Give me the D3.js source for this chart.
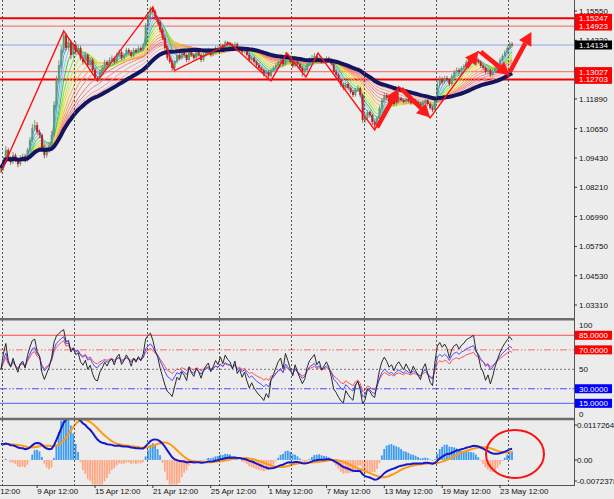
<!DOCTYPE html>
<html><head><meta charset="utf-8">
<script src="https://cdn.jsdelivr.net/npm/d3@7"></script>
<style>
html,body{margin:0;padding:0;background:#ececec;}
svg{display:block;font-family:"Liberation Sans",Arial,sans-serif;}
</style></head><body>
<svg id="c" width="614" height="499"></svg>
<script>
// ---------------- data ----------------
const closes = [1.0901,1.0935,1.0976,1.0943,1.0926,1.0955,1.0935,1.0918,1.0943,1.0951,
 1.0935,1.0976,1.1018,1.1068,1.1080,1.1051,1.1039,1.0985,1.0955,1.0976,
 1.0997,1.1039,1.1164,1.1268,1.1330,1.1393,1.1455,1.1401,1.1426,1.1372,
 1.1414,1.1384,1.1401,1.1359,1.1343,1.1372,1.1330,1.1351,1.1309,1.1276,
 1.1268,1.1301,1.1318,1.1343,1.1330,1.1351,1.1359,1.1343,1.1372,1.1384,
 1.1359,1.1372,1.1393,1.1384,1.1368,1.1393,1.1384,1.1401,1.1393,1.1414,
 1.1497,1.1538,1.1567,1.1551,1.1526,1.1509,1.1476,1.1443,1.1401,1.1359,
 1.1343,1.1318,1.1343,1.1372,1.1359,1.1384,1.1372,1.1351,1.1393,1.1372,
 1.1359,1.1384,1.1372,1.1351,1.1372,1.1384,1.1393,1.1372,1.1384,1.1401,
 1.1393,1.1414,1.1401,1.1426,1.1418,1.1414,1.1401,1.1418,1.1393,1.1401,
 1.1384,1.1393,1.1372,1.1351,1.1359,1.1343,1.1330,1.1318,1.1309,1.1293,
 1.1301,1.1284,1.1309,1.1318,1.1330,1.1343,1.1351,1.1334,1.1372,1.1359,
 1.1343,1.1326,1.1351,1.1334,1.1318,1.1301,1.1309,1.1334,1.1351,1.1359,
 1.1368,1.1351,1.1359,1.1343,1.1351,1.1359,1.1351,1.1334,1.1301,1.1289,
 1.1268,1.1247,1.1234,1.1251,1.1234,1.1218,1.1205,1.1226,1.1234,1.1205,
 1.1101,1.1110,1.1135,1.1122,1.1093,1.1080,1.1110,1.1151,1.1184,1.1205,
 1.1193,1.1176,1.1184,1.1168,1.1184,1.1193,1.1184,1.1176,1.1189,1.1180,
 1.1172,1.1184,1.1176,1.1168,1.1160,1.1176,1.1184,1.1168,1.1151,1.1143,
 1.1184,1.1247,1.1268,1.1259,1.1276,1.1268,1.1251,1.1284,1.1301,1.1309,
 1.1301,1.1318,1.1326,1.1343,1.1351,1.1359,1.1368,1.1351,1.1343,1.1326,
 1.1318,1.1301,1.1309,1.1289,1.1301,1.1318,1.1334,1.1351,1.1368,1.1384,
 1.1401,1.1418,1.1414];
const highs = [1.0912,1.0948,1.0992,1.0985,1.0950,1.0968,1.0962,1.0942,1.0955,1.0962,
 1.0960,1.0985,1.1030,1.1085,1.1100,1.1092,1.1062,1.1045,1.0995,1.0988,
 1.1010,1.1055,1.1180,1.1285,1.1350,1.1410,1.1473,1.1462,1.1445,1.1435,
 1.1425,1.1428,1.1415,1.1410,1.1370,1.1385,1.1380,1.1362,1.1360,1.1318,
 1.1285,1.1310,1.1330,1.1352,1.1350,1.1362,1.1370,1.1365,1.1382,1.1395,
 1.1392,1.1380,1.1402,1.1400,1.1392,1.1402,1.1400,1.1410,1.1408,1.1422,
 1.1505,1.1550,1.1573,1.1570,1.1560,1.1535,1.1518,1.1485,1.1455,1.1410,
 1.1368,1.1352,1.1350,1.1380,1.1378,1.1392,1.1390,1.1378,1.1400,1.1398,
 1.1380,1.1390,1.1392,1.1378,1.1380,1.1392,1.1402,1.1398,1.1392,1.1410,
 1.1408,1.1420,1.1418,1.1432,1.1430,1.1425,1.1420,1.1425,1.1424,1.1408,
 1.1408,1.1400,1.1398,1.1380,1.1368,1.1365,1.1350,1.1338,1.1325,1.1315,
 1.1310,1.1308,1.1315,1.1326,1.1338,1.1350,1.1360,1.1358,1.1382,1.1378,
 1.1366,1.1350,1.1358,1.1356,1.1340,1.1325,1.1318,1.1340,1.1362,1.1372,
 1.1380,1.1375,1.1366,1.1365,1.1358,1.1366,1.1365,1.1358,1.1340,1.1310,
 1.1296,1.1275,1.1255,1.1260,1.1258,1.1240,1.1225,1.1235,1.1245,1.1240,
 1.1212,1.1118,1.1142,1.1140,1.1128,1.1100,1.1118,1.1160,1.1192,1.1215,
 1.1214,1.1200,1.1192,1.1190,1.1190,1.1200,1.1198,1.1190,1.1195,1.1194,
 1.1188,1.1190,1.1190,1.1182,1.1175,1.1182,1.1190,1.1190,1.1175,1.1160,
 1.1192,1.1262,1.1285,1.1280,1.1285,1.1285,1.1275,1.1292,1.1310,1.1320,
 1.1318,1.1325,1.1335,1.1350,1.1360,1.1368,1.1378,1.1375,1.1358,1.1350,
 1.1335,1.1325,1.1318,1.1315,1.1308,1.1325,1.1342,1.1360,1.1375,1.1392,
 1.1410,1.1428,1.1425];
const lows = [1.0880,1.0890,1.0925,1.0935,1.0915,1.0918,1.0925,1.0905,1.0910,1.0932,
 1.0925,1.0928,1.0968,1.1010,1.1055,1.1040,1.1025,1.0975,1.0942,1.0945,
 1.0965,1.0985,1.1030,1.1150,1.1255,1.1315,1.1380,1.1390,1.1392,1.1355,
 1.1360,1.1375,1.1372,1.1350,1.1332,1.1335,1.1322,1.1322,1.1300,1.1265,
 1.1262,1.1262,1.1292,1.1310,1.1322,1.1325,1.1342,1.1335,1.1338,1.1365,
 1.1350,1.1352,1.1365,1.1375,1.1360,1.1362,1.1378,1.1378,1.1385,1.1388,
 1.1408,1.1488,1.1528,1.1540,1.1515,1.1498,1.1465,1.1435,1.1392,1.1350,
 1.1335,1.1306,1.1310,1.1336,1.1350,1.1352,1.1365,1.1342,1.1345,1.1365,
 1.1350,1.1352,1.1365,1.1342,1.1345,1.1365,1.1376,1.1365,1.1366,1.1378,
 1.1385,1.1386,1.1395,1.1396,1.1410,1.1405,1.1395,1.1395,1.1386,1.1385,
 1.1376,1.1378,1.1365,1.1342,1.1344,1.1336,1.1322,1.1310,1.1300,1.1282,
 1.1285,1.1266,1.1278,1.1300,1.1310,1.1324,1.1335,1.1326,1.1328,1.1350,
 1.1336,1.1318,1.1320,1.1328,1.1310,1.1282,1.1294,1.1302,1.1326,1.1344,
 1.1352,1.1344,1.1345,1.1336,1.1338,1.1346,1.1344,1.1328,1.1295,1.1278,
 1.1260,1.1238,1.1225,1.1228,1.1226,1.1210,1.1196,1.1198,1.1218,1.1196,
 1.1090,1.1088,1.1100,1.1112,1.1080,1.1066,1.1072,1.1102,1.1142,1.1176,
 1.1186,1.1168,1.1170,1.1160,1.1162,1.1178,1.1178,1.1170,1.1170,1.1174,
 1.1165,1.1166,1.1170,1.1160,1.1152,1.1155,1.1170,1.1160,1.1144,1.1135,
 1.1138,1.1178,1.1238,1.1250,1.1252,1.1260,1.1242,1.1245,1.1276,1.1294,
 1.1292,1.1295,1.1310,1.1320,1.1336,1.1344,1.1352,1.1345,1.1335,1.1318,
 1.1310,1.1294,1.1292,1.1280,1.1282,1.1295,1.1310,1.1328,1.1345,1.1360,
 1.1378,1.1395,1.1405];
const firstOpen = 1.0893;

const priceTicks = [1.15550,1.14330,1.13110,1.11890,1.10650,1.09430,1.08210,1.06990,1.05750,1.04530,1.03310];
const levelPrices = [1.15247,1.14923,1.13027,1.12703];
const levelStrong = [true,false,false,true];
const bidPrice = 1.14134;
const timeLabels = ["3 Apr 12:00","9 Apr 12:00","15 Apr 12:00","21 Apr 12:00","25 Apr 12:00","1 May 12:00","7 May 12:00","13 May 12:00","19 May 12:00","23 May 12:00"];
const timeLabelBars = [-9,15,39,63,87,111,135,159,183,207];
const gridBars = [0.4,30.4,60.4,90.4,120.4,150.4,180.4,210.4];
const zigzag = [[0,1.0885],[26,1.1472],[40,1.1264],[63,1.1572],[72,1.1307],[95,1.1421],[112,1.1264],[118.5,1.1380],[126.5,1.1280],[131.5,1.1380],[155,1.1060],[165,1.1240],[178,1.1110],[198,1.1385],[211,1.1280]];
const arrows = [[156,1.1070,165,1.1232],[166,1.1232,178,1.1112],[193,1.1320,198,1.1388],[199,1.1385,211,1.1288],[211,1.1300,220,1.1468]];
const ribbonPeriods = [3,5,7,9,12,15,18,22,26,30,35,40,46,52];
const ribbonColors = ["#3f8fef","#5aa5f5","#8cc4f8","#2fd02f","#7fe040","#c8e640","#f7d83a","#f8b53a","#f89a48","#f7876a","#f27878","#ef8585","#f29a9a","#f4aaaa"];
const navyPeriod = 60;
const rsiPeriods = [7,14,21];
const rsiColors = ["#2a2a2a","#4a4aff","#ff5050"];
const rsiLevels = [85,70,50,30,15];
const rsiBoxLevels = [85,70,30,15];
const rsiPlainLevels = [100,50,0];
const macdParams = [12,26,9];
const macdStart = 0.0048;
const histMult = 2.7;
const macdTicks = [0.0117264,0,-0.0072378];
const macdTickText = ["0.0117264","0.00","-0.0072378"];

// ---------------- helpers ----------------
function lwma(a,n){return a.map((v,i)=>{let s=0,w=0;for(let k=0;k<n&&i-k>=0;k++){const wt=n-k;s+=a[i-k]*wt;w+=wt;}return s/w;});}
function ema(a,n,seed){const al=2/(n+1);let e=seed;return a.map((v,i)=>{if(i>0)e=e+al*(v-e);return e;});}
function rsi(a,n,seedAvg){let ag=seedAvg,al=seedAvg;const out=[];for(let i=0;i<a.length;i++){if(i>0){const d=a[i]-a[i-1];ag=ag+((d>0?d:0)-ag)/n;al=al+((d<0?-d:0)-al)/n;}out.push(100-100/(1+ag/al));}return out;}
function sma(a,n){return a.map((v,i)=>{let s=0,c=0;for(let k=0;k<n&&i-k>=0;k++){s+=a[i-k];c++;}return s/c;});}

const W=614,H=499,PR=574;
const svg=d3.select("#c");
svg.append("rect").attr("width",W).attr("height",H).attr("fill","#ececec");
const x=d3.scaleLinear().domain([0,212]).range([1,512.1]);
const yP=d3.scaleLinear().domain([1.03310,1.15550]).range([305,11]);
const yR=d3.scaleLinear().domain([0,100]).range([417.9,320.7]);
const yM=d3.scaleLinear().domain([-0.0072378,0.0117264]).range([484,421]);
const defs=svg.append("defs");
[["cm",0,0,PR,317],["cr",0,320.5,PR,97],["cmd",0,420,PR,64.5]].forEach(c=>defs.append("clipPath").attr("id",c[0]).append("rect").attr("x",c[1]).attr("y",c[2]).attr("width",c[3]).attr("height",c[4]));
const gMain=svg.append("g").attr("clip-path","url(#cm)");
const gR=svg.append("g").attr("clip-path","url(#cr)");
const gM=svg.append("g").attr("clip-path","url(#cmd)");

// grid
svg.append("g").selectAll("line").data(gridBars).join("line")
 .attr("x1",d=>Math.round(x(d))+0.5).attr("x2",d=>Math.round(x(d))+0.5).attr("y1",0).attr("y2",485)
 .attr("stroke","#555").attr("stroke-width",1).attr("stroke-dasharray","2,2");

// level lines main
gMain.selectAll("line.lv").data(levelPrices).join("line").attr("class","lv")
 .attr("x1",0).attr("x2",PR).attr("y1",d=>yP(d)).attr("y2",d=>yP(d))
 .attr("stroke",(d,i)=>levelStrong[i]?"#f00000":"#ff7a7a").attr("stroke-width",(d,i)=>levelStrong[i]?2:1.2);
gMain.append("line").attr("x1",0).attr("x2",PR).attr("y1",yP(bidPrice)).attr("y2",yP(bidPrice)).attr("stroke","#8fa6e6").attr("stroke-width",1);

// ribbon
const idx=d3.range(closes.length);
const lineP=d3.line().x((d,i)=>x(i)).y(d=>yP(d));
ribbonPeriods.slice().reverse().forEach((p,j)=>{
  const k=ribbonPeriods.length-1-j;
  gMain.append("path").attr("d",lineP(lwma(closes,p))).attr("fill","none").attr("stroke",ribbonColors[k]).attr("stroke-width",1);
});

// candles
const opens=closes.map((c,i)=>i===0?firstOpen:closes[i-1]);
const cg=gMain.append("g");
idx.forEach(i=>{
  const o=opens[i],c=closes[i];const up=c>=o;const col=up?"#5e9e6e":"#c41e1e";
  cg.append("line").attr("x1",x(i)).attr("x2",x(i)).attr("y1",yP(highs[i])).attr("y2",yP(lows[i])).attr("stroke",up?"#6f8f78":"#b04040").attr("stroke-width",0.9);
  cg.append("rect").attr("x",x(i)-1).attr("width",2).attr("y",yP(Math.max(o,c))).attr("height",Math.max(1,Math.abs(yP(o)-yP(c)))).attr("fill",col);
});
gMain.append("path").attr("d",lineP(lwma(closes,navyPeriod))).attr("fill","none").attr("stroke","#15155f").attr("stroke-width",4);

// zigzag
gMain.append("path").attr("d",d3.line().x(d=>x(d[0])).y(d=>yP(d[1]))(zigzag)).attr("fill","none").attr("stroke","#ff1010").attr("stroke-width",1.4);
// arrows
arrows.forEach(a=>{
  const x0=x(a[0]),y0=yP(a[1]),x1=x(a[2]),y1=yP(a[3]);
  const dx=x1-x0,dy=y1-y0,L=Math.hypot(dx,dy),ux=dx/L,uy=dy/L,hl=13,hw=7;
  const bx=x1-ux*hl,by=y1-uy*hl;
  gMain.append("line").attr("x1",x0).attr("y1",y0).attr("x2",bx).attr("y2",by).attr("stroke","#ff1a1a").attr("stroke-width",4.5);
  gMain.append("path").attr("d",`M${x1},${y1}L${bx-uy*hw},${by+ux*hw}L${bx+uy*hw},${by-ux*hw}Z`).attr("fill","#ff1a1a");
});

// RSI panel
rsiLevels.forEach(l=>{
  const st={85:["#ff4a4a",null],70:["#ff6a6a","7,2,1.5,2,1.5,2"],50:["#777","2,2"],30:["#4a4aff","7,2,1.5,2,1.5,2"],15:["#5a5aff",null]}[l];
  gR.append("line").attr("x1",0).attr("x2",PR).attr("y1",yR(l)).attr("y2",yR(l)).attr("stroke",st[0]).attr("stroke-width",1).attr("stroke-dasharray",st[1]);
});
const lineR=d3.line().x((d,i)=>x(i)).y(d=>yR(d));
rsiPeriods.slice().reverse().forEach((p,j)=>{const k=rsiPeriods.length-1-j;
  gR.append("path").attr("d",lineR(rsi(closes,p,0.0006))).attr("fill","none").attr("stroke",rsiColors[k]).attr("stroke-width",1);});

// MACD panel
const e1=ema(closes,macdParams[0],closes[0]);
const e2=ema(closes,macdParams[1],closes[0]-macdStart);
const macd=e1.map((v,i)=>v-e2[i]);
const sig=sma(macd,macdParams[2]);
const hist=macd.map((v,i)=>(v-sig[i])*histMult);
gM.selectAll("rect").data(hist).join("rect")
 .attr("x",(d,i)=>x(i)-1).attr("width",1.8)
 .attr("y",d=>Math.min(yM(d),yM(0))).attr("height",d=>Math.abs(yM(d)-yM(0)))
 .attr("fill",d=>d>=0?"#3c9cf0":"#ffa784");
const lineM=d3.line().x((d,i)=>x(i)).y(d=>yM(d));
gM.append("path").attr("d",lineM(sig)).attr("fill","none").attr("stroke","#ff9a10").attr("stroke-width",2);
gM.append("path").attr("d",lineM(macd)).attr("fill","none").attr("stroke","#1818c8").attr("stroke-width",2);
gM.append("ellipse").attr("cx",515).attr("cy",454).attr("rx",29).attr("ry",24).attr("fill","none").attr("stroke","#ff1010").attr("stroke-width",2);

// separators & borders
[319.3,419].forEach(y=>svg.append("line").attr("x1",0).attr("x2",PR+1).attr("y1",y).attr("y2",y).attr("stroke","#6c6c6c").attr("stroke-width",2.4));
svg.append("line").attr("x1",0).attr("x2",PR+1).attr("y1",485.5).attr("y2",485.5).attr("stroke","#555");
svg.append("line").attr("x1",PR+0.5).attr("x2",PR+0.5).attr("y1",0).attr("y2",486).attr("stroke","#555");

// price axis
const ax=svg.append("g").attr("font-size",8).attr("fill","#111");
priceTicks.forEach(t=>{
  ax.append("line").attr("x1",PR).attr("x2",PR+3).attr("y1",yP(t)).attr("y2",yP(t)).attr("stroke","#333");
  ax.append("text").attr("x",PR+5).attr("y",yP(t)+3).text(t.toFixed(5));
});
levelPrices.forEach(p=>{
  ax.append("rect").attr("x",PR+1).attr("y",yP(p)-4.5).attr("width",37).attr("height",9).attr("fill","#ff0000");
  ax.append("text").attr("x",PR+5).attr("y",yP(p)+3).attr("fill","#fff").text(p.toFixed(5));
});
ax.append("rect").attr("x",PR+1).attr("y",yP(bidPrice)-4.5).attr("width",37).attr("height",9).attr("fill","#000");
ax.append("text").attr("x",PR+5).attr("y",yP(bidPrice)+3).attr("fill","#fff").text(bidPrice.toFixed(5));
// rsi axis
rsiPlainLevels.forEach(l=>{
  const yy=l===100?yR(l)+4:(l===0?yR(l)-4:yR(l));
  ax.append("text").attr("x",PR+5).attr("y",yy+3).text(l);
});
rsiBoxLevels.forEach(l=>{
  ax.append("rect").attr("x",PR+1).attr("y",yR(l)-4.5).attr("width",37).attr("height",9).attr("fill",l>50?"#ff0000":"#0000ff");
  ax.append("text").attr("x",PR+5).attr("y",yR(l)+3).attr("fill","#fff").text(l.toFixed(4));
});
// macd axis
macdTicks.forEach((t,i)=>{
  const yy=i===0?yM(t)+4:(i===2?yM(t)-3:yM(t));
  ax.append("line").attr("x1",PR).attr("x2",PR+3).attr("y1",yy).attr("y2",yy).attr("stroke","#333");
  ax.append("text").attr("x",PR+3).attr("y",yy+3).text(macdTickText[i]);
});
// time axis
timeLabels.forEach((t,i)=>{
  ax.append("text").attr("x",x(timeLabelBars[i])).attr("y",494).text(t);
  ax.append("line").attr("x1",x(timeLabelBars[i])).attr("x2",x(timeLabelBars[i])).attr("y1",485).attr("y2",488).attr("stroke","#333");
});
</script></body></html>
